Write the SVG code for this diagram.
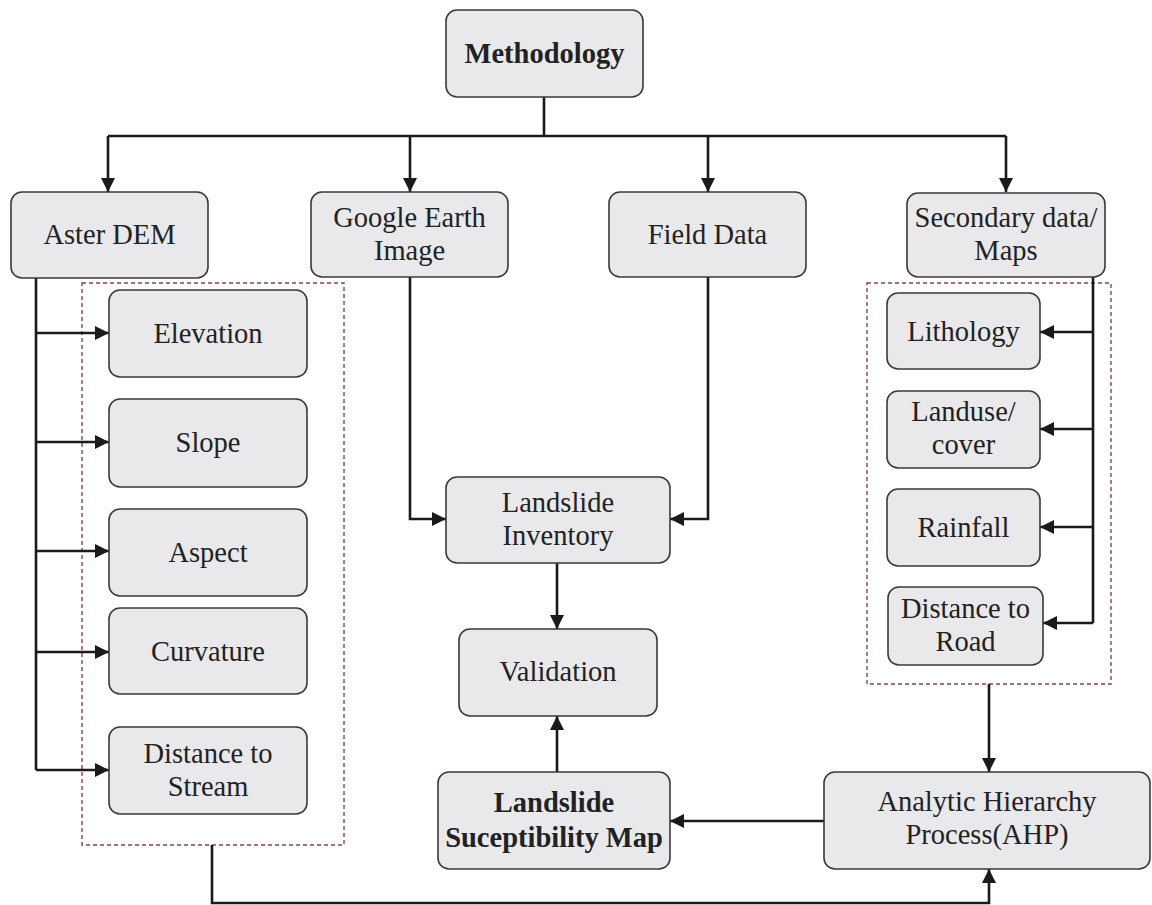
<svg xmlns="http://www.w3.org/2000/svg" width="1152" height="905" viewBox="0 0 1152 905">
<defs>
<marker id="ah" viewBox="0 0 10 10" refX="10" refY="5" markerWidth="14" markerHeight="14" markerUnits="userSpaceOnUse" orient="auto">
<path d="M0,0 L10,5 L0,10 z" fill="#1a1a1a"/>
</marker>
<style>
.box{fill:#e9e9eb;stroke:#3a3a3a;stroke-width:1.6}
.t{font-family:"Liberation Serif","Times New Roman",serif;font-size:28.5px;fill:#222;text-anchor:middle}
.b{font-weight:bold}
.c{fill:none;stroke:#1a1a1a;stroke-width:2.6}
.ca{fill:none;stroke:#1a1a1a;stroke-width:2.6;marker-end:url(#ah)}
.dash{fill:none;stroke:#8a4444;stroke-width:1.4;stroke-dasharray:4 3}
</style>
</defs>
<rect width="1152" height="905" fill="#ffffff"/>

<g id="groups">
<rect class="dash" x="82" y="283" width="262" height="562"/>
<rect class="dash" x="867" y="283" width="244" height="401"/>
</g>

<g id="connectors">
<path class="c" d="M544,97 V136 M108,136 H1006"/>
<path class="ca" d="M108,136 V192"/>
<path class="ca" d="M410,136 V192"/>
<path class="ca" d="M708,136 V192"/>
<path class="ca" d="M1006,136 V192"/>
<path class="c" d="M36,278 V770"/>
<path class="ca" d="M36,333 H109"/>
<path class="ca" d="M36,442 H109"/>
<path class="ca" d="M36,551 H109"/>
<path class="ca" d="M36,652 H109"/>
<path class="ca" d="M36,770 H109"/>
<path class="ca" d="M410,277 V519 H446"/>
<path class="ca" d="M708,277 V519 H670"/>
<path class="ca" d="M557,563 V629"/>
<path class="ca" d="M557,772 V716"/>
<path class="c" d="M1093,277 V623"/>
<path class="ca" d="M1093,332 H1040"/>
<path class="ca" d="M1093,429 H1040"/>
<path class="ca" d="M1093,527 H1040"/>
<path class="ca" d="M1093,623 H1043"/>
<path class="ca" d="M989,684 V772"/>
<path class="ca" d="M824,821 H670"/>
<path class="ca" d="M212,845 V903 H989 V869"/>
</g>

<g id="methodology"><rect class="box" x="446" y="10" width="197" height="87" rx="11"/><text class="t b" x="544.5" y="63">Methodology</text></g>
<g id="aster-dem"><rect class="box" x="11" y="192" width="197" height="86" rx="11"/><text class="t" x="109.5" y="244">Aster DEM</text></g>
<g id="google-earth"><rect class="box" x="311" y="192" width="197" height="85" rx="11"/><text class="t" x="409.5" y="227">Google Earth</text><text class="t" x="409.5" y="260">Image</text></g>
<g id="field-data"><rect class="box" x="609" y="192" width="197" height="85" rx="11"/><text class="t" x="707.5" y="244">Field Data</text></g>
<g id="secondary-data"><rect class="box" x="907" y="193" width="198" height="84" rx="11"/><text class="t" x="1006" y="227">Secondary data/</text><text class="t" x="1006" y="260">Maps</text></g>

<g id="elevation"><rect class="box" x="109" y="290" width="198" height="87" rx="11"/><text class="t" x="208" y="343">Elevation</text></g>
<g id="slope"><rect class="box" x="109" y="399" width="198" height="88" rx="11"/><text class="t" x="208" y="452">Slope</text></g>
<g id="aspect"><rect class="box" x="109" y="509" width="198" height="87" rx="11"/><text class="t" x="208" y="562">Aspect</text></g>
<g id="curvature"><rect class="box" x="109" y="608" width="198" height="86" rx="11"/><text class="t" x="208" y="661">Curvature</text></g>
<g id="distance-stream"><rect class="box" x="109" y="727" width="198" height="87" rx="11"/><text class="t" x="208" y="763">Distance to</text><text class="t" x="208" y="796">Stream</text></g>

<g id="lithology"><rect class="box" x="887" y="293" width="153" height="76" rx="11"/><text class="t" x="963.5" y="341">Lithology</text></g>
<g id="landuse"><rect class="box" x="887" y="391" width="153" height="77" rx="11"/><text class="t" x="963.5" y="421">Landuse/</text><text class="t" x="963.5" y="454">cover</text></g>
<g id="rainfall"><rect class="box" x="887" y="489" width="153" height="77" rx="11"/><text class="t" x="963.5" y="537">Rainfall</text></g>
<g id="distance-road"><rect class="box" x="888" y="587" width="155" height="78" rx="11"/><text class="t" x="965.5" y="618">Distance to</text><text class="t" x="965.5" y="651">Road</text></g>

<g id="landslide-inventory"><rect class="box" x="446" y="477" width="224" height="86" rx="11"/><text class="t" x="558" y="512">Landslide</text><text class="t" x="558" y="545">Inventory</text></g>
<g id="validation"><rect class="box" x="459" y="629" width="198" height="87" rx="11"/><text class="t" x="558" y="681">Validation</text></g>
<g id="susceptibility-map"><rect class="box" x="438" y="772" width="232" height="97" rx="11"/><text class="t b" x="554" y="812">Landslide</text><text class="t b" x="554" y="847">Suceptibility Map</text></g>
<g id="ahp"><rect class="box" x="824" y="772" width="326" height="97" rx="11"/><text class="t" x="987" y="811">Analytic Hierarchy</text><text class="t" x="987" y="844">Process(AHP)</text></g>
</svg>
